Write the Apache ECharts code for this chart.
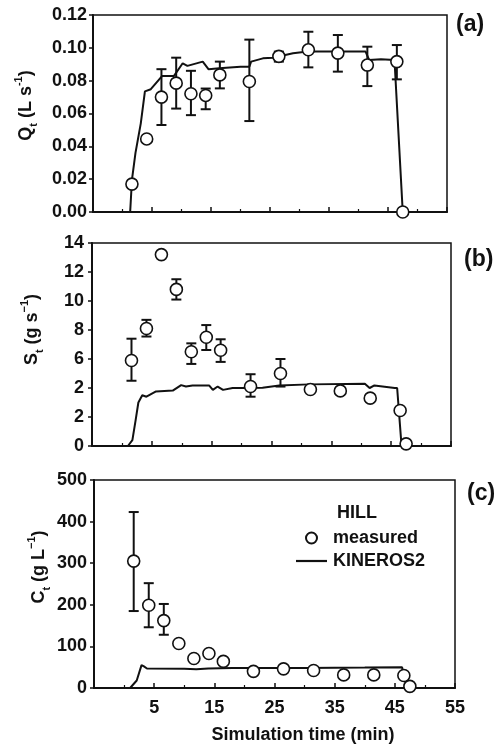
<!DOCTYPE html>
<html>
<head>
<meta charset="utf-8">
<script src="https://cdn.jsdelivr.net/npm/echarts@6/dist/echarts.min.js"></script>
<style>html,body{margin:0;padding:0;background:#fff;}#c{width:496px;height:746px;}</style>
</head>
<body>
<div id="c"></div>
<script>
// ---- data ----
var times = [1.6, 4.1, 6.6, 9.1, 11.6, 14.1, 16.5, 21.5, 26.5, 31.5, 36.5, 41.5, 46.5, 47.5];
var qMeasured = [0.017, 0.0445, 0.070, 0.0785, 0.072, 0.071, 0.0835, 0.0795, 0.0948, 0.0988, 0.0968, 0.0895, 0.0916, 0.0];
var qLow  = [null, null, 0.053, 0.063, 0.059, 0.0626, 0.0753, 0.0554, 0.0916, 0.0881, 0.0855, 0.0767, 0.0808, null];
var qHigh = [null, null, 0.087, 0.094, 0.086, 0.0752, 0.0916, 0.105, 0.0977, 0.1098, 0.1078, 0.1007, 0.1017, null];
var sMeasured = [5.9, 8.1, 13.2, 10.8, 6.5, 7.5, 6.6, 4.1, 5.0, 3.9, 3.8, 3.3, 2.45, 0.15];
var sLow  = [4.5, 7.55, null, 10.1, 5.66, 6.62, 5.8, 3.4, 4.1, null, null, null, null, null];
var sHigh = [7.4, 8.7, null, 11.5, 7.08, 8.34, 7.36, 4.95, 6.0, null, null, null, null, null];
var cMeasured = [305, 199, 162, 107, 71, 83, 64, 40, 46, 42, 31.5, 31.5, 30, 4];
var cLow  = [185, 146, 128, null, null, null, null, null, null, null, null, null, null, null];
var cHigh = [423, 252, 202, null, null, null, null, null, null, null, null, null, null, null];

var qModelT = [0, 1.3, 1.6, 2.2, 3.1, 3.8, 4.8, 6.7, 8.7, 10.2, 11, 13.6, 14.6, 16.4, 20, 21.5, 21.8, 23.8, 25.5, 28.9, 31.4, 36.2, 41.2, 41.8, 43.8, 46.1, 47.5, 50];
var qModelV = [0, 0, 0.0195, 0.036, 0.054, 0.0735, 0.0748, 0.0828, 0.0828, 0.0906, 0.089, 0.0916, 0.0869, 0.0875, 0.0885, 0.0885, 0.0916, 0.0936, 0.094, 0.0967, 0.0977, 0.0977, 0.0977, 0.0926, 0.093, 0.0926, 0, 0];
var sModelT = [0, 1, 1.75, 2.3, 2.75, 3.4, 4.1, 5.7, 8.5, 9.9, 10.7, 11.8, 14.6, 15.2, 16, 16.9, 18.5, 20.7, 23.5, 26.3, 31.3, 40.6, 41.4, 42.2, 45.6, 46.0, 46.7, 47, 50];
var sModelV = [0, 0, 0.4, 1.8, 3.0, 3.5, 3.4, 3.76, 3.82, 4.2, 4.1, 4.17, 4.17, 3.87, 4.1, 3.87, 4.0, 4.0, 4.01, 4.18, 4.25, 4.3, 4.0, 4.18, 4.0, 4.0, 0.2, 0, 0];
var cModelT = [0, 1, 2.1, 2.9, 3.3, 3.8, 10, 12, 14, 18, 30, 40, 46.2, 47, 50];
var cModelV = [0, 0, 18, 55, 52, 47, 46, 45, 47, 48, 48, 49, 50, 0, 0];

var xTickLabels = ['5', '15', '25', '35', '45', '55'];
var qTickLabels = ['0.00', '0.02', '0.04', '0.06', '0.08', '0.10', '0.12'];
var sTickLabels = ['0', '2', '2', '6', '8', '10', '12', '14'];
var cTickLabels = ['0', '100', '200', '300', '400', '500'];

// ---- helpers ----
var FONT = '"Liberation Sans", Arial, Helvetica, sans-serif';
var INK = '#111';

function pairs(xs, ys) { return xs.map(function (x, i) { return [x, ys[i]]; }); }
function errPairs(xs, lo, hi) {
  var out = [];
  xs.forEach(function (x, i) { if (lo[i] != null && hi[i] != null) out.push([x, lo[i], hi[i]]); });
  return out;
}
function renderErr(params, api) {
  var x = api.value(0), lo = api.value(1), hi = api.value(2);
  var p1 = api.coord([x, lo]), p2 = api.coord([x, hi]);
  var w = 5;
  var st = { stroke: INK, lineWidth: 2 };
  return { type: 'group', children: [
    { type: 'line', shape: { x1: p1[0], y1: p1[1], x2: p2[0], y2: p2[1] }, style: st },
    { type: 'line', shape: { x1: p1[0] - w, y1: p1[1], x2: p1[0] + w, y2: p1[1] }, style: st },
    { type: 'line', shape: { x1: p2[0] - w, y1: p2[1], x2: p2[0] + w, y2: p2[1] }, style: st }
  ]};
}
var richName = {
  m: { fontSize: 18, fontWeight: 'bold', fontFamily: FONT, color: INK, lineHeight: 26 },
  sub: { fontSize: 11, fontWeight: 'bold', fontFamily: FONT, color: INK, lineHeight: 12, verticalAlign: 'bottom' },
  sup: { fontSize: 11, fontWeight: 'bold', fontFamily: FONT, color: INK, lineHeight: 12, verticalAlign: 'top' }
};

function xAxisFor(idx, showLabels) {
  var ax = {
    type: 'value', gridIndex: idx, min: -5, max: 55, interval: 10,
    axisLine: { show: true, onZero: false, lineStyle: { color: INK, width: 2 } },
    axisTick: { show: true, inside: true, length: 5, lineStyle: { color: INK, width: 1.5 } },
    minorTick: { show: true, splitNumber: 2, length: 3, lineStyle: { color: INK, width: 1.2 } },
    splitLine: { show: false },
    axisLabel: {
      show: showLabels, margin: 11, fontSize: 18, fontWeight: 'bold', fontFamily: FONT, color: INK,
      formatter: function (v) { var s = String(Math.round(v)); return xTickLabels.indexOf(s) >= 0 ? s : ''; }
    }
  };
  if (showLabels) {
    ax.name = 'Simulation time (min)';
    ax.nameLocation = 'middle';
    ax.nameGap = 38;
    ax.nameMoveOverlap = false;
    ax.nameTextStyle = { fontSize: 18, fontWeight: 'bold', fontFamily: FONT, color: INK, padding: [0, 0, 0, 57] };
  }
  return ax;
}
function yAxisFor(idx, max, interval, labels, name, gap, margin, shift) {
  return {
    type: 'value', gridIndex: idx, min: 0, max: max, interval: interval,
    axisLine: { show: true, onZero: false, lineStyle: { color: INK, width: 2 } },
    axisTick: { show: true, inside: false, length: 4, lineStyle: { color: INK, width: 1.5 } },
    splitLine: { show: false },
    axisLabel: { margin: margin, fontSize: 18, fontWeight: 'bold', fontFamily: FONT, color: INK,
      formatter: function (v, i) { return labels[i]; } },
    name: name, nameLocation: 'middle', nameGap: gap, nameRotate: 90, nameMoveOverlap: false,
    nameTextStyle: { rich: richName, padding: [0, 0, 0, shift] }
  };
}
function panelSeries(idx, measured, lo, hi, mt, mv) {
  return [
    { name: 'KINEROS2', type: 'line', xAxisIndex: idx, yAxisIndex: idx, data: pairs(mt, mv),
      symbol: 'none', lineStyle: { color: INK, width: 2 }, itemStyle: { color: INK }, z: 2, silent: true },
    { name: 'err' + idx, type: 'custom', xAxisIndex: idx, yAxisIndex: idx, data: errPairs(times, lo, hi),
      renderItem: renderErr, encode: { x: 0, y: [1, 2] }, z: 3, silent: true },
    { name: 'measured', type: 'scatter', xAxisIndex: idx, yAxisIndex: idx, data: pairs(times, measured),
      symbol: 'circle', symbolSize: 12,
      itemStyle: { color: '#fff', borderColor: INK, borderWidth: 1.6, opacity: 1 }, z: 4, silent: true }
  ];
}

var option = {
  backgroundColor: '#fff',
  animation: false,
  textStyle: { fontFamily: FONT },
  title: [
    { text: '(a)', left: 451, top: 8, textStyle: { fontSize: 23, fontWeight: 'bold', fontFamily: FONT, color: INK } },
    { text: '(b)', left: 459, top: 243, textStyle: { fontSize: 23, fontWeight: 'bold', fontFamily: FONT, color: INK } },
    { text: '(c)', left: 462, top: 477, textStyle: { fontSize: 23, fontWeight: 'bold', fontFamily: FONT, color: INK } },
    { text: 'HILL', left: 332, top: 499, textStyle: { fontSize: 18, fontWeight: 'bold', fontFamily: FONT, color: INK } }
  ],
  legend: {
    data: [
      { name: 'measured' },
      { name: 'KINEROS2', icon: 'path://M0,0H31V2.2H0Z', itemStyle: { color: INK, borderWidth: 0 } }
    ],
    orient: 'vertical', left: 291, top: 524,
    itemWidth: 31, itemHeight: 11, itemGap: 5, selectedMode: false,
    textStyle: { fontSize: 18, fontWeight: 'bold', fontFamily: FONT, color: INK, lineHeight: 18, padding: [0, 0, 0, 1] }
  },
  grid: [
    { left: 93, top: 15, width: 354, height: 197, show: true, borderColor: INK, borderWidth: 1.5 },
    { left: 92, top: 243, width: 359, height: 203, show: true, borderColor: INK, borderWidth: 1.5 },
    { left: 94, top: 480, width: 361, height: 208, show: true, borderColor: INK, borderWidth: 1.5 }
  ],
  xAxis: [xAxisFor(0, false), xAxisFor(1, false), xAxisFor(2, true)],
  yAxis: [
    yAxisFor(0, 0.12, 0.02, qTickLabels, '{m|Q}{sub|t}{m| (L s}{sup|-1}{m|)}', 54, 6, 16),
    yAxisFor(1, 14, 2, sTickLabels, '{m|S}{sub|t}{m| (g s}{sup|\u22121}{m|)}', 47, 8, 30),
    yAxisFor(2, 500, 100, cTickLabels, '{m|C}{sub|t}{m| (g L}{sup|\u22121}{m|)}', 42, 7, 34)
  ],
  series: [].concat(
    panelSeries(0, qMeasured, qLow, qHigh, qModelT, qModelV),
    panelSeries(1, sMeasured, sLow, sHigh, sModelT, sModelV),
    panelSeries(2, cMeasured, cLow, cHigh, cModelT, cModelV)
  )
};

var chart = echarts.init(document.getElementById('c'), null, { renderer: 'canvas' });
chart.setOption(option);
</script>
</body>
</html>
